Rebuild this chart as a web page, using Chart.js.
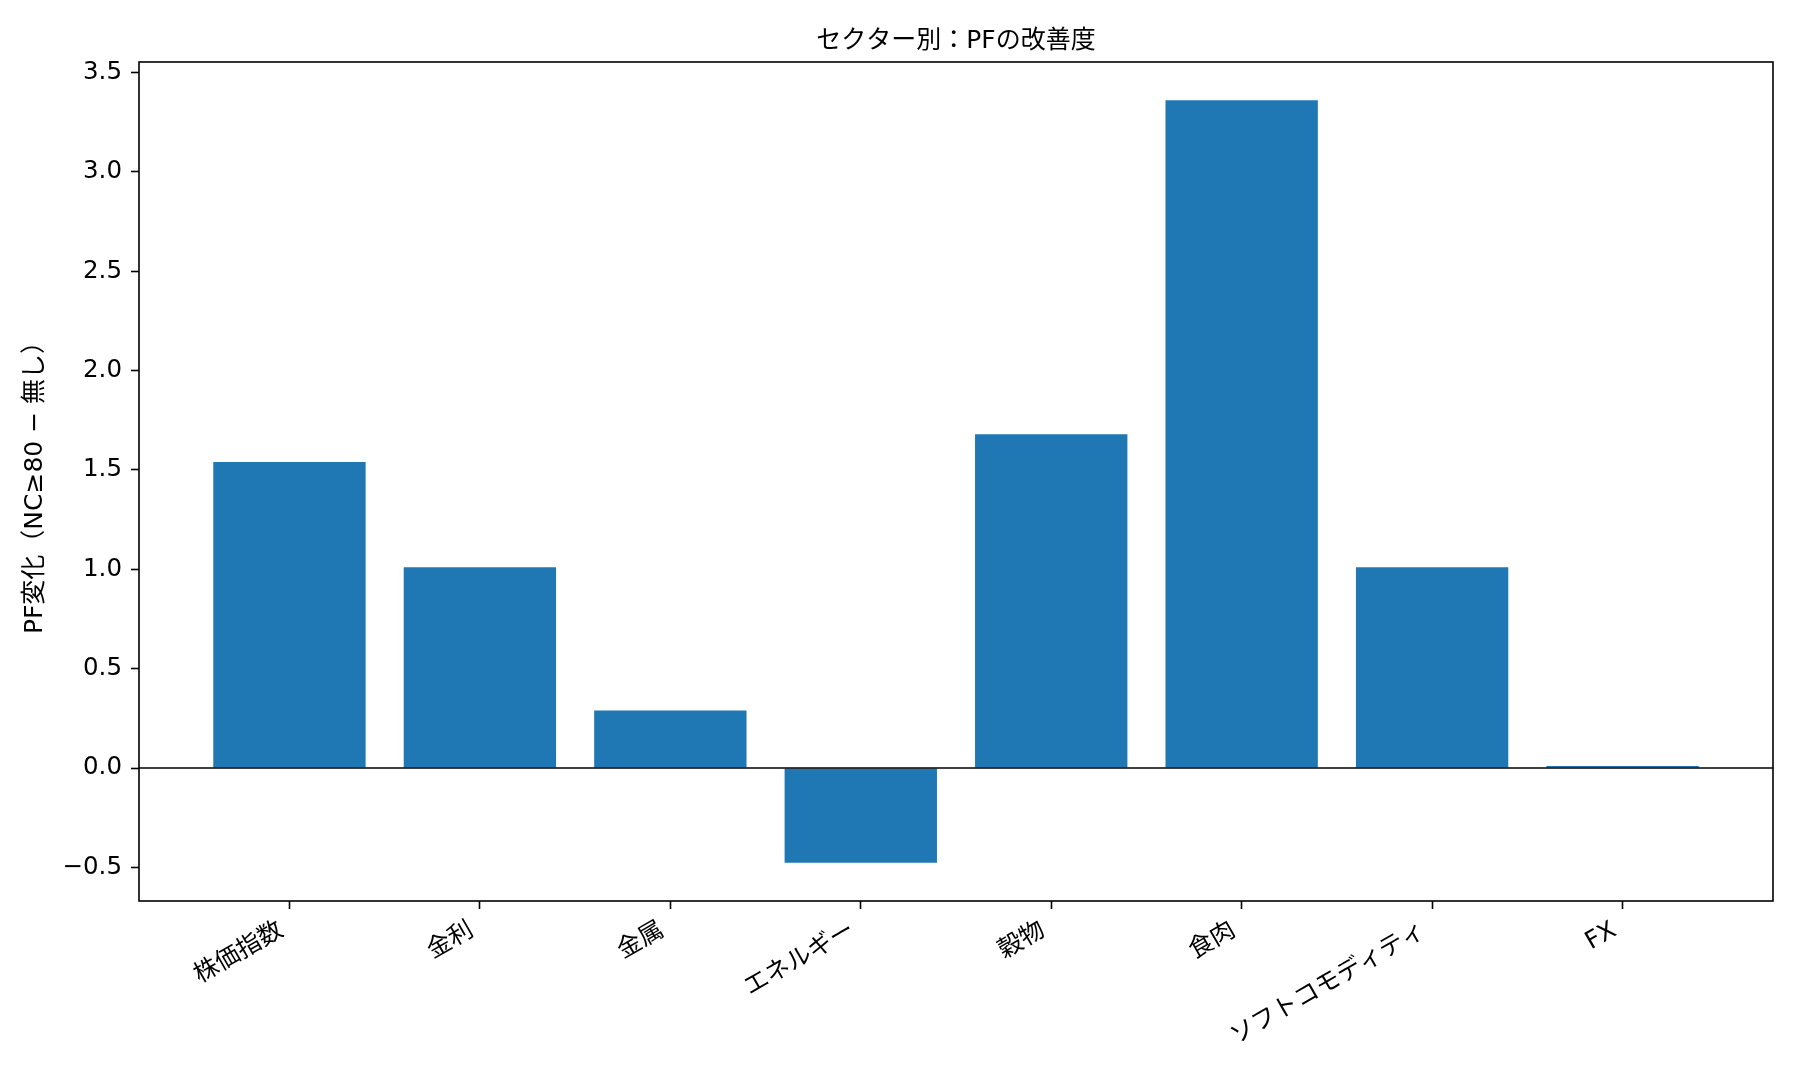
<!DOCTYPE html>
<html>
<head>
<meta charset="utf-8">
<script src="https://cdn.jsdelivr.net/npm/chart.js"></script>
<style>
  html, body { margin: 0; padding: 0; background: #fff; }
  canvas { display: block; }
</style>
</head>
<body>
<canvas id="sectorChart" width="1800" height="1080"></canvas>
<script>
// セクター別のPF改善度
const sectors = ['株価指数', '金利', '金属', 'エネルギー', '穀物', '食肉', 'ソフトコモディティ', 'FX'];
const pfChange = [1.54, 1.01, 0.29, -0.477, 1.68, 3.361, 1.01, 0.01];
const yTickValues = [-0.5, 0.0, 0.5, 1.0, 1.5, 2.0, 2.5, 3.0, 3.5];

const chartTitle = 'セクター別：PFの改善度';
const yAxisLabel = 'PF変化（NC≥80 − 無し）';

const FONT = "'DejaVu Sans', 'Noto Sans CJK JP', sans-serif";

// matplotlib風の5%マージン
const yMin = Math.min(0, ...pfChange);
const yMax = Math.max(0, ...pfChange);
const yPad = (yMax - yMin) * 0.05;
const xPad = (sectors.length - 1 + 0.8) * 0.05;

// 枠線・ゼロ線・タイトル
const framePlugin = {
    id: 'frame',
    afterDatasetsDraw(chart) {
        const { ctx, chartArea } = chart;
        const y0 = chart.scales.y.getPixelForValue(0);
        ctx.save();
        ctx.strokeStyle = '#000';
        ctx.lineWidth = 1.6;
        ctx.beginPath();
        ctx.moveTo(chartArea.left, y0);
        ctx.lineTo(chartArea.right, y0);
        ctx.stroke();
        ctx.strokeRect(chartArea.left, chartArea.top, chartArea.right - chartArea.left, chartArea.bottom - chartArea.top);
        ctx.restore();
    },
    afterDraw(chart) {
        const { ctx, chartArea } = chart;
        ctx.save();
        ctx.fillStyle = '#000';
        ctx.font = '25px ' + FONT;
        ctx.textAlign = 'center';
        ctx.textBaseline = 'alphabetic';
        ctx.fillText(chartTitle, (chartArea.left + chartArea.right) / 2, 48);
        ctx.restore();
    }
};

const tickGrid = {
    drawOnChartArea: false,
    drawTicks: true,
    offset: false,
    tickLength: 8,
    tickColor: '#000',
    tickWidth: 1.6
};

new Chart(document.getElementById('sectorChart'), {
    type: 'bar',
    data: {
        datasets: [{
            data: pfChange.map((v, i) => ({ x: i, y: v })),
            backgroundColor: '#1f77b4',
            borderWidth: 0,
            categoryPercentage: 1.0,
            barPercentage: 0.8
        }]
    },
    options: {
        responsive: false,
        animation: false,
        devicePixelRatio: 1,
        layout: {
            padding: { top: 62, right: 27, bottom: 0, left: 0 }
        },
        plugins: {
            legend: { display: false },
            tooltip: { enabled: false },
            title: { display: false }
        },
        scales: {
            x: {
                type: 'linear',
                offset: false,
                min: -0.4 - xPad,
                max: sectors.length - 1 + 0.4 + xPad,
                afterBuildTicks: (axis) => {
                    axis.ticks = sectors.map((s, i) => ({ value: i }));
                },
                afterFit: (axis) => { axis.height = 179; },
                grid: tickGrid,
                border: { display: false },
                ticks: {
                    autoSkip: false,
                    minRotation: 30,
                    maxRotation: 30,
                    padding: 7,
                    labelOffset: -8,
                    color: '#000',
                    font: { family: FONT, size: 24.5 },
                    callback: (value) => sectors[value]
                }
            },
            y: {
                min: yMin - yPad,
                max: yMax + yPad,
                afterBuildTicks: (axis) => {
                    axis.ticks = yTickValues.map(v => ({ value: v }));
                },
                afterFit: (axis) => { axis.width = 139; },
                grid: tickGrid,
                border: { display: false },
                ticks: {
                    padding: 9,
                    color: '#000',
                    font: { family: FONT, size: 24.5 },
                    callback: (value) => (value < 0 ? '−' : '') + Math.abs(value).toFixed(1)
                },
                title: {
                    display: true,
                    text: yAxisLabel,
                    color: '#000',
                    font: { family: FONT, size: 25 },
                    padding: { top: 20, bottom: 0 }
                }
            }
        }
    },
    plugins: [framePlugin]
});
</script>
</body>
</html>
